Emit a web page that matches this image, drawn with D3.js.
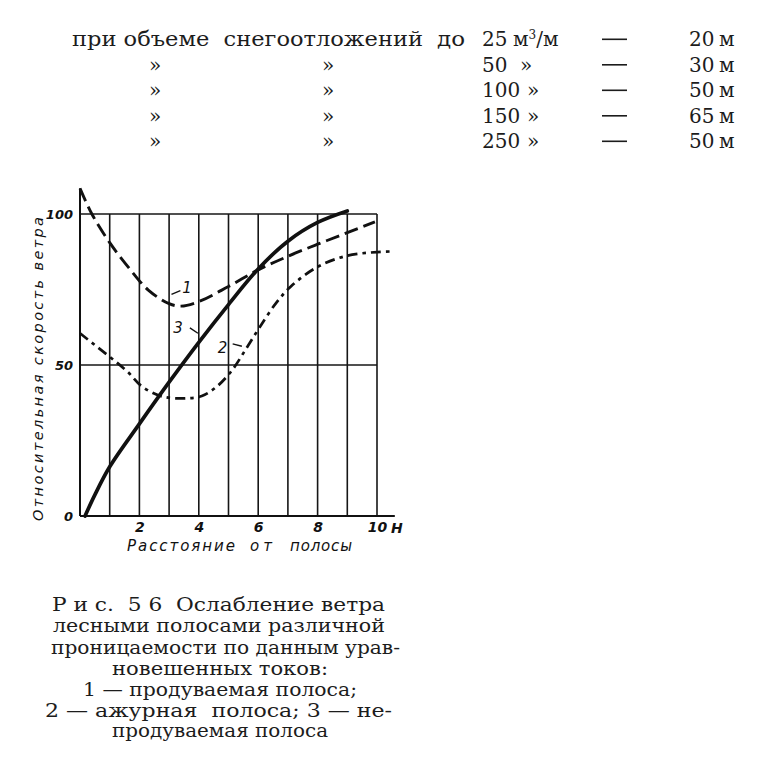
<!DOCTYPE html>
<html lang="ru">
<head>
  <meta charset="UTF-8" />
  <title>Рис. 56 Ослабление ветра лесными полосами</title>
  <script src="https://d3js.org/d3.v7.min.js"></script>
  <style>
    body {
      margin: 0;
      background: #fff;
    }
    svg {
      display: block;
      background: #fff;
    }
    .serif {
      font-family: "DejaVu Serif", "Liberation Serif", serif;
      fill: #1c1c1c;
    }
    .hand {
      font-family: "DejaVu Sans", sans-serif;
      font-style: italic;
      fill: #111;
    }
    .tick text {
      font-family: "DejaVu Sans", sans-serif;
      font-style: italic;
      font-weight: bold;
      fill: #111;
    }
  </style>
</head>
<body>
  <svg width="777" height="761"></svg>

  <script>
    // таблица над рисунком
    const volumes = ["25", "50", "100", "150", "250"];
    const beltWidths = ["20", "30", "50", "65", "50"];

    // оси
    const xTicks = [2, 4, 6, 8, 10];
    const yTicks = [0, 50, 100];
    const gridX = [1, 2, 3, 4, 5, 6, 7, 8, 9, 10];
    const gridY = [50, 100];

    // 1 — продуваемая полоса (расстояние, H; скорость, %)
    const curve1 = [[0, 108.5], [0.4, 100], [1, 90.5], [1.7, 81.5], [2.3, 74.8], [3, 70.3],
      [3.4, 69.5], [4, 71], [5, 76], [6, 81.5], [7, 86], [8, 90], [9, 93.8], [9.93, 97.4]];
    // 2 — ажурная полоса
    const curve2 = [[0, 60.5], [1, 52.7], [1.6, 47.8], [2.1, 42.8], [2.8, 39.5], [3.6, 39],
      [4.1, 39.7], [4.6, 42.8], [5.1, 48], [5.6, 55.5], [6.05, 62.5], [6.6, 70.5],
      [7.1, 76], [8, 82.5], [9, 86.2], [10, 87.4], [10.55, 87.6]];
    // 3 — непродуваемая полоса
    const curve3 = [[0.17, 0], [0.5, 7], [1, 16.3], [2, 30.5], [3, 44.3],
      [4, 57.5], [5, 70], [6, 81.8], [7, 91], [8, 97.2], [9, 101]];

    const curveLabels = [
      { text: "1", at: [3.6, 75.5], from: [3.08, 73.4], to: [3.38, 74.6] },
      { text: "3", at: [3.3, 62.3], from: [3.7, 62.3], to: [3.97, 60.5] },
      { text: "2", at: [4.8, 55.6], from: [5.14, 57], to: [5.45, 56.2] }
    ];

    const svg = d3.select("svg");

    // ---------- таблица ----------
    const rowY = i => 46 + i * 25.5;
    const table = svg.append("g").attr("class", "serif").attr("font-size", 20);

    function word(txt, x, y, len) {
      const t = table.append("text").attr("x", x).attr("y", y).text(txt);
      if (len) t.attr("textLength", len).attr("lengthAdjust", "spacingAndGlyphs");
      return t;
    }

    word("при объеме  снегоотложений", 72, rowY(0), 351).style("white-space", "pre");
    word("до", 437, rowY(0), 28);
    const unit = table.append("text").attr("x", 513).attr("y", rowY(0));
    unit.append("tspan").text("м");
    unit.append("tspan").attr("font-size", 12).attr("dy", -7).text("3");
    unit.append("tspan").attr("dy", 7).text("/м");

    volumes.forEach((v, i) => {
      const y = rowY(i);
      if (i > 0) {
        word("»", 149, y);
        word("»", 322, y);
        word("»", v.length > 2 ? 527 : 520, y);
      }
      word(v, 482, y);
      table.append("rect")
        .attr("x", 602).attr("y", y - 7.5)
        .attr("width", 25).attr("height", 1.6)
        .attr("fill", "#1c1c1c");
      word(beltWidths[i], 689, y);
      word("м", 719, y);
    });

    // ---------- график ----------
    const x = d3.scaleLinear().domain([0, 10]).range([80, 377]);
    const y = d3.scaleLinear().domain([0, 100]).range([516, 214]);

    const chart = svg.append("g");

    chart.selectAll(".vgrid")
      .data(gridX)
      .enter()
      .append("line")
      .attr("class", "vgrid")
      .attr("x1", d => x(d)).attr("x2", d => x(d))
      .attr("y1", y(0)).attr("y2", y(100))
      .attr("stroke", "#161616")
      .attr("stroke-width", 1.6);

    chart.selectAll(".hgrid")
      .data(gridY)
      .enter()
      .append("line")
      .attr("class", "hgrid")
      .attr("x1", x(0)).attr("x2", x(10))
      .attr("y1", d => y(d)).attr("y2", d => y(d))
      .attr("stroke", "#161616")
      .attr("stroke-width", 1.6);

    // оси: вертикальная выше 100, горизонтальная за 10 H
    chart.append("line")
      .attr("x1", x(0)).attr("x2", x(0))
      .attr("y1", y(0)).attr("y2", y(108.5))
      .attr("stroke", "#111").attr("stroke-width", 2);
    chart.append("line")
      .attr("x1", x(0)).attr("x2", x(10.6))
      .attr("y1", y(0)).attr("y2", y(0))
      .attr("stroke", "#111").attr("stroke-width", 2);

    const line = d3.line()
      .x(d => x(d[0]))
      .y(d => y(d[1]))
      .curve(d3.curveCatmullRom.alpha(0.5));

    chart.append("path")
      .datum(curve1)
      .attr("d", line)
      .attr("fill", "none")
      .attr("stroke", "#111")
      .attr("stroke-width", 2.9)
      .attr("stroke-dasharray", "14,6");

    chart.append("path")
      .datum(curve2)
      .attr("d", line)
      .attr("fill", "none")
      .attr("stroke", "#111")
      .attr("stroke-width", 2.7)
      .attr("stroke-dasharray", "10,5,3.5,5");

    chart.append("path")
      .datum(curve3)
      .attr("d", line)
      .attr("fill", "none")
      .attr("stroke", "#111")
      .attr("stroke-width", 3.7)
      .attr("stroke-linecap", "round");

    // номера кривых
    const labels = chart.selectAll(".clabel")
      .data(curveLabels)
      .enter()
      .append("g")
      .attr("class", "clabel");

    labels.append("line")
      .attr("x1", d => x(d.from[0])).attr("y1", d => y(d.from[1]))
      .attr("x2", d => x(d.to[0])).attr("y2", d => y(d.to[1]))
      .attr("stroke", "#111").attr("stroke-width", 1.4);

    labels.append("text")
      .attr("class", "hand")
      .attr("x", d => x(d.at[0]))
      .attr("y", d => y(d.at[1]))
      .attr("dy", "0.35em")
      .attr("text-anchor", "middle")
      .attr("font-size", 15)
      .text(d => d.text);

    // подписи делений
    const xAxis = chart.append("g")
      .attr("transform", `translate(0,${y(0)})`)
      .call(d3.axisBottom(x).tickValues(xTicks).tickSize(0).tickPadding(6));
    xAxis.select(".domain").remove();
    xAxis.selectAll("text").attr("font-size", 14);

    chart.append("text")
      .attr("class", "hand")
      .attr("x", x(10) + 14)
      .attr("y", y(0) + 17)
      .attr("font-size", 14)
      .attr("font-weight", "bold")
      .text("Н");

    const yAxis = chart.append("g")
      .attr("transform", `translate(${x(0)},0)`)
      .call(d3.axisLeft(y).tickValues(yTicks).tickSize(0).tickPadding(7));
    yAxis.select(".domain").remove();
    yAxis.selectAll("text").attr("font-size", 13);

    // названия осей
    const xTitle = chart.append("g").attr("class", "hand").attr("font-size", 15);
    xTitle.append("text").attr("x", 127).attr("y", 551)
      .attr("textLength", 108).attr("lengthAdjust", "spacing").text("Расстояние");
    xTitle.append("text").attr("x", 250).attr("y", 551)
      .attr("textLength", 22).attr("lengthAdjust", "spacing").text("от");
    xTitle.append("text").attr("x", 290).attr("y", 551)
      .attr("textLength", 62).attr("lengthAdjust", "spacing").text("полосы");

    chart.append("text")
      .attr("class", "hand")
      .attr("transform", "translate(43,521) rotate(-90)")
      .attr("font-size", 14.5)
      .attr("textLength", 304)
      .attr("lengthAdjust", "spacing")
      .text("Относительная скорость ветра");

    // ---------- подпись к рисунку ----------
    const caption = svg.append("g").attr("class", "serif").attr("font-size", 18.5);
    const capLines = [
      { t: "Р и с.  5 6  Ослабление ветра", x0: 52, x1: 385, y: 610.5 },
      { t: "лесными полосами различной", x0: 53, x1: 385, y: 632 },
      { t: "проницаемости по данным урав-", x0: 51, x1: 400, y: 653.5 },
      { t: "новешенных токов:", x0: 112, x1: 328, y: 675 },
      { t: "1 — продуваемая полоса;", x0: 83, x1: 357, y: 696 },
      { t: "2 — ажурная  полоса; 3 — не-", x0: 45, x1: 392, y: 716.5 },
      { t: "продуваемая полоса", x0: 112, x1: 328, y: 737 }
    ];
    caption.selectAll("text")
      .data(capLines)
      .enter()
      .append("text")
      .attr("x", d => d.x0)
      .attr("y", d => d.y)
      .attr("textLength", d => d.x1 - d.x0)
      .attr("lengthAdjust", "spacingAndGlyphs")
      .style("white-space", "pre")
      .text(d => d.t);
  </script>
</body>
</html>
